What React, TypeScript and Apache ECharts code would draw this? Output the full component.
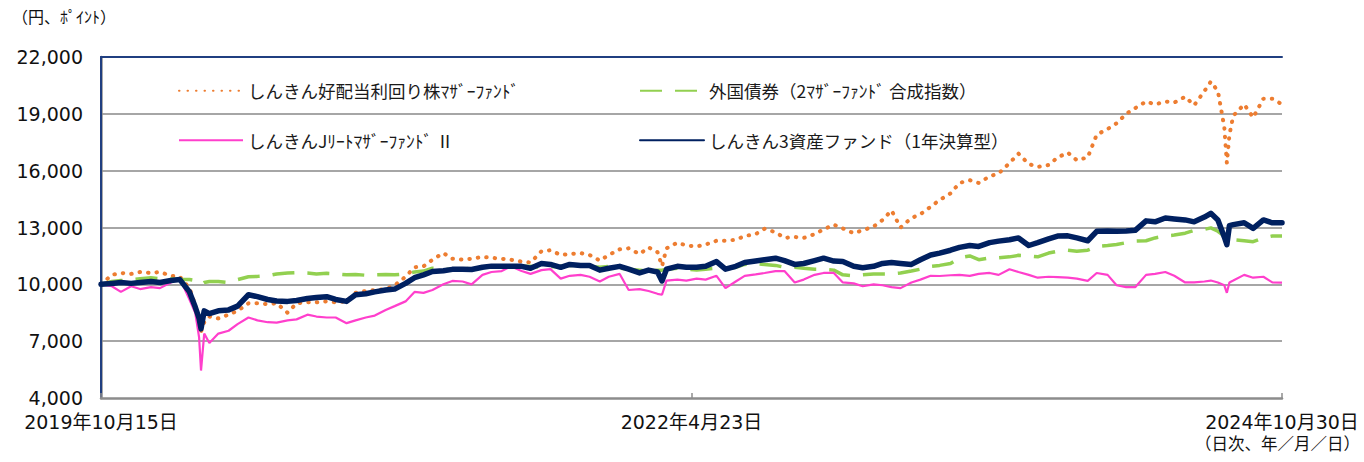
import React, { useEffect, useRef } from "react";
import * as echarts from "echarts";

const dates = [
  "2019-10-15", "2019-11-01", "2019-11-15", "2019-12-01", "2019-12-15",
  "2020-01-01", "2020-01-15", "2020-02-01", "2020-02-15", "2020-03-01", "2020-03-10", "2020-03-16", "2020-03-19", "2020-03-24",
  "2020-04-01", "2020-04-15", "2020-05-01", "2020-05-15", "2020-06-01", "2020-06-15", "2020-07-01", "2020-07-15", "2020-08-01",
  "2020-08-15", "2020-09-01", "2020-09-15", "2020-10-01", "2020-10-15", "2020-11-01", "2020-11-15", "2020-12-01", "2020-12-15",
  "2021-01-01", "2021-01-15", "2021-02-01", "2021-02-15", "2021-03-01", "2021-03-15", "2021-04-01", "2021-04-15", "2021-05-01",
  "2021-05-15", "2021-06-01", "2021-06-15", "2021-07-01", "2021-07-15", "2021-08-01", "2021-08-15", "2021-09-01", "2021-09-15",
  "2021-10-01", "2021-10-15", "2021-11-01", "2021-11-15", "2021-12-01", "2021-12-15",
  "2022-01-01", "2022-01-15", "2022-02-01", "2022-02-15", "2022-03-01", "2022-03-08", "2022-03-15", "2022-04-01", "2022-04-15",
  "2022-05-01", "2022-05-15", "2022-06-01", "2022-06-15", "2022-07-01", "2022-07-15", "2022-08-01", "2022-08-15", "2022-09-01",
  "2022-09-15", "2022-10-01", "2022-10-15", "2022-11-01", "2022-11-15", "2022-12-01", "2022-12-15",
  "2023-01-01", "2023-01-15", "2023-02-01", "2023-02-15", "2023-03-01", "2023-03-15", "2023-04-01", "2023-04-15", "2023-05-01",
  "2023-05-15", "2023-06-01", "2023-06-15", "2023-07-01", "2023-07-15", "2023-08-01", "2023-08-15", "2023-09-01", "2023-09-15",
  "2023-10-01", "2023-10-15", "2023-11-01", "2023-11-15", "2023-12-01", "2023-12-15",
  "2024-01-01", "2024-01-15", "2024-02-01", "2024-02-15", "2024-03-01", "2024-03-15", "2024-04-01", "2024-04-15", "2024-05-01",
  "2024-05-15", "2024-06-01", "2024-06-15", "2024-07-01", "2024-07-11", "2024-07-22", "2024-08-01", "2024-08-05", "2024-08-09",
  "2024-08-15", "2024-09-01", "2024-09-15", "2024-10-01", "2024-10-15", "2024-10-30",
];

// しんきん好配当利回り株マザーファンド
const dividendStock = [
  10000, 10500, 10600, 10550, 10650,
  10600, 10650, 10450, 10400, 9800, 8900, 8000, 7500, 8000,
  8300, 8200, 8400, 8600, 9000, 9000, 8950, 9000, 8500,
  9000, 9050, 9050, 9100, 9050, 9100, 9550, 9650, 9700,
  9750, 9950, 10400, 10900, 10950, 11300, 11650, 11350, 11300,
  11350, 11450, 11400, 11350, 11300, 11200, 11150, 11750, 11800,
  11550, 11600, 11650, 11550, 11250, 11550,
  11850, 11900, 11600, 11950, 11700, 10960, 11900, 12200, 12050,
  12000, 12100, 12300, 12300, 12350, 12550, 12650, 12930, 12750,
  12450, 12500, 12450, 12650, 12900, 13150, 12950,
  12700, 12850, 13050, 13400, 13900, 13000, 13500, 13700, 14100,
  14450, 14800, 15350, 15500, 15350, 15700, 15850, 16400, 16900,
  16350, 16200, 16300, 16700, 16950, 16550,
  16700, 17900, 18200, 18500, 19000, 19300, 19650, 19500, 19650,
  19600, 19900, 19450, 20200, 20700, 20200, 18300, 16400, 17900,
  18900, 19500, 18800, 19800, 19800, 19500,
];

// 外国債券（2マザーファンド合成指数）
const foreignBond = [
  10000, 10150, 10200, 10250, 10300,
  10350, 10300, 10300, 10250, 10250, 10200, 10050, 10000, 10100,
  10150, 10150, 10100, 10250, 10400, 10420, 10450, 10550, 10600,
  10620, 10600, 10550, 10580, 10550, 10500, 10520, 10480, 10500,
  10520, 10500, 10550, 10650, 10700, 10850, 10800, 10780, 10800,
  10850, 10900, 10950, 10950, 10980, 10950, 10950, 10900, 10920,
  10950, 11000, 11000, 10950, 10900, 10950,
  10850, 10800, 10750, 10700, 10750, 10750, 10800, 10850, 10800,
  10750, 10800, 10850, 10800, 10900, 11050, 11100, 11050, 11000,
  10900, 10900, 10850, 10800, 10800, 10750, 10500,
  10450, 10500, 10550, 10550, 10550, 10600, 10700, 10800, 10950,
  11000, 11100, 11400, 11500, 11300, 11400, 11400, 11450, 11530,
  11500, 11450, 11650, 11750, 11800, 11750,
  11800, 12000, 12050, 12100, 12200, 12280, 12300, 12450, 12550,
  12600, 12700, 12850, 12900, 12980, 12800, 12550, 12400, 12350,
  12350, 12300, 12250, 12450, 12550, 12550,
];

// しんきんJリートマザーファンドⅡ
const jReit = [
  10000, 9900, 9600, 9900, 9750,
  9850, 9800, 10100, 10300, 9200, 8500, 7200, 5450, 7400,
  6900, 7400, 7550, 7900, 8250, 8100, 8000, 7980, 8100,
  8150, 8400, 8300, 8250, 8250, 7950, 8100, 8250, 8350,
  8650, 8850, 9100, 9600, 9550, 9700, 10000, 10180, 10150,
  10000, 10500, 10650, 10700, 10950, 10700, 10550, 10750, 10800,
  10300, 10450, 10500, 10400, 10150, 10400,
  10550, 9700, 9750, 9650, 9500, 9450, 10200, 10250, 10200,
  10300, 10250, 10450, 9800, 10150, 10450, 10530, 10600, 10700,
  10700, 10100, 10250, 10500, 10600, 10600, 10100,
  10050, 9900, 10000, 9950, 9850, 9800, 10100, 10250, 10450,
  10440, 10480, 10500, 10450, 10550, 10600, 10500, 10800, 10650,
  10500, 10350, 10400, 10380, 10350, 10300,
  10180, 10600, 10500, 9950, 9850, 9850, 10500, 10550, 10650,
  10450, 10100, 10100, 10150, 10200, 10100, 9950, 9550, 10100,
  10200, 10500, 10350, 10400, 10100, 10090,
];

// しんきん3資産ファンド（1年決算型）
const threeAsset = [
  10000, 10050, 10100, 10050, 10100,
  10150, 10100, 10200, 10250, 9600, 8800, 8200, 7650, 8600,
  8450, 8600, 8650, 8850, 9450, 9350, 9200, 9120, 9100,
  9150, 9250, 9300, 9350, 9200, 9100, 9450, 9500, 9600,
  9700, 9750, 10050, 10350, 10500, 10680, 10720, 10790, 10800,
  10780, 10900, 10960, 10950, 10960, 10950, 10850, 11100, 11050,
  10900, 11050, 11000, 11000, 10750, 10850,
  10950, 10800, 10600, 10750, 10650, 10180, 10800, 10950, 10900,
  10900, 10950, 11200, 10800, 10950, 11150, 11230, 11300, 11380,
  11250, 11050, 11100, 11250, 11380, 11230, 11200,
  10950, 10880, 10950, 11100, 11150, 11100, 11050, 11300, 11550,
  11650, 11800, 11950, 12050, 12000, 12200, 12280, 12350, 12450,
  12050, 12200, 12400, 12550, 12560, 12450,
  12300, 12800, 12820, 12800, 12820, 12850, 13350, 13300, 13500,
  13450, 13400, 13300, 13550, 13750, 13400, 12500, 12100, 13100,
  13150, 13250, 12950, 13400, 13250, 13250,
];

const seriesNames = [
  "しんきん好配当利回り株ﾏｻﾞｰﾌｧﾝﾄﾞ",
  "外国債券（2ﾏｻﾞｰﾌｧﾝﾄﾞ 合成指数）",
  "しんきんJﾘｰﾄﾏｻﾞｰﾌｧﾝﾄﾞ Ⅱ",
  "しんきん3資産ファンド（1年決算型）",
];

const xTickLabels = ["2019年10月15日", "2022年4月23日", "2024年10月30日"];
const startDate = "2019-10-15";
const endDate = "2024-10-30";

const DAY = 86400000;
const dayOf = (s: string) => Math.round((Date.parse(s) - Date.parse(startDate)) / DAY);
const totalDays = dayOf(endDate);
const half = totalDays / 2;

const toPairs = (vals: number[]) => vals.map((v, i) => [dayOf(dates[i]), v]);

const FONT = "'DejaVu Sans', 'Noto Sans CJK JP', sans-serif";
const CJK = "'Noto Sans CJK JP', sans-serif";

export default function App() {
  const ref = useRef<HTMLDivElement>(null);
  useEffect(() => {
    if (!ref.current) return;
    const chart = echarts.init(ref.current, null, { renderer: "svg" });
    const legendText = { fontSize: 17.5, color: "#1a1a1a", fontFamily: CJK };
    const legendCommon = {
      orient: "vertical",
      top: 77,
      itemWidth: 64,
      itemHeight: 18,
      itemGap: 32,
      textStyle: legendText,
      itemStyle: { opacity: 0 },
    };
    chart.setOption({
      animation: false,
      backgroundColor: "#ffffff",
      grid: { left: 101, right: 82, top: 57, bottom: 64, containLabel: false },
      legend: [
        { ...legendCommon, data: [seriesNames[0], seriesNames[2]], left: 173 },
        { ...legendCommon, data: [seriesNames[1], seriesNames[3]], left: 634 },
      ],
      xAxis: [
        {
          type: "value",
          min: 0,
          max: totalDays,
          interval: half,
          axisLine: { show: true, lineStyle: { color: "#8c8c8c", width: 2.5 } },
          axisTick: { show: true, inside: true, length: 5, lineStyle: { color: "#8c8c8c", width: 1.5 } },
          axisLabel: {
            margin: 14,
            fontSize: 19,
            color: "#111",
            fontFamily: FONT,
            showMinLabel: true,
            showMaxLabel: true,
            formatter: (v: number) => xTickLabels[Math.round(v / half)] ?? "",
          },
          splitLine: { show: false },
        },
        {
          type: "value",
          position: "top",
          min: 0,
          max: totalDays,
          axisLine: { show: true, lineStyle: { color: "#203f80", width: 2 } },
          axisTick: { show: false },
          axisLabel: { show: false },
          splitLine: { show: false },
        },
      ],
      yAxis: [
        {
          type: "value",
          min: 4000,
          max: 22000,
          interval: 3000,
          axisLine: { show: true, lineStyle: { color: "#8c8c8c", width: 2.5 } },
          axisTick: { show: false },
          axisLabel: { margin: 18, fontSize: 19, color: "#111", fontFamily: FONT },
          splitLine: { show: true, showMaxLine: false, showMinLine: false, lineStyle: { color: "#a6a6a6", width: 2 } },
        },
        {
          type: "value",
          position: "right",
          min: 4000,
          max: 22000,
          interval: 3000,
          axisLine: { show: true, lineStyle: { color: "#203f80", width: 2 } },
          axisTick: { show: false },
          axisLabel: { show: false },
          splitLine: { show: false },
        },
      ],
      series: [
        {
          name: seriesNames[0],
          type: "line",
          symbol: "none",
          data: toPairs(dividendStock),
          lineStyle: { color: "#ED7D31", width: 4, type: [0.5, 8], cap: "round" },
          itemStyle: { color: "#ED7D31" },
          z: 2,
        },
        {
          name: seriesNames[1],
          type: "line",
          symbol: "none",
          data: toPairs(foreignBond),
          lineStyle: { color: "#92D050", width: 3.5, type: [22, 13] },
          itemStyle: { color: "#92D050" },
          z: 3,
        },
        {
          name: seriesNames[2],
          type: "line",
          symbol: "none",
          data: toPairs(jReit),
          lineStyle: { color: "#FF3FCC", width: 2.2 },
          itemStyle: { color: "#FF3FCC" },
          z: 4,
        },
        {
          name: seriesNames[3],
          type: "line",
          symbol: "none",
          data: toPairs(threeAsset),
          lineStyle: { color: "#002060", width: 5.5, cap: "round", join: "round" },
          itemStyle: { color: "#002060" },
          z: 5,
        },
      ],
      graphic: [
        {
          type: "text",
          left: 12,
          top: 8,
          style: { text: "（円、ﾎﾟｲﾝﾄ）", fontSize: 16, fill: "#111", fontFamily: CJK },
        },
        {
          type: "text",
          right: 4,
          top: 435,
          style: { text: "（日次、年／月／日）", fontSize: 16.5, fill: "#111", fontFamily: CJK },
        },
      ],
    });
    return () => chart.dispose();
  }, []);
  return (
    <div
      ref={ref}
      style={{ position: "absolute", left: 0, top: 0, width: 1364, height: 462, background: "#fff" }}
    />
  );
}
